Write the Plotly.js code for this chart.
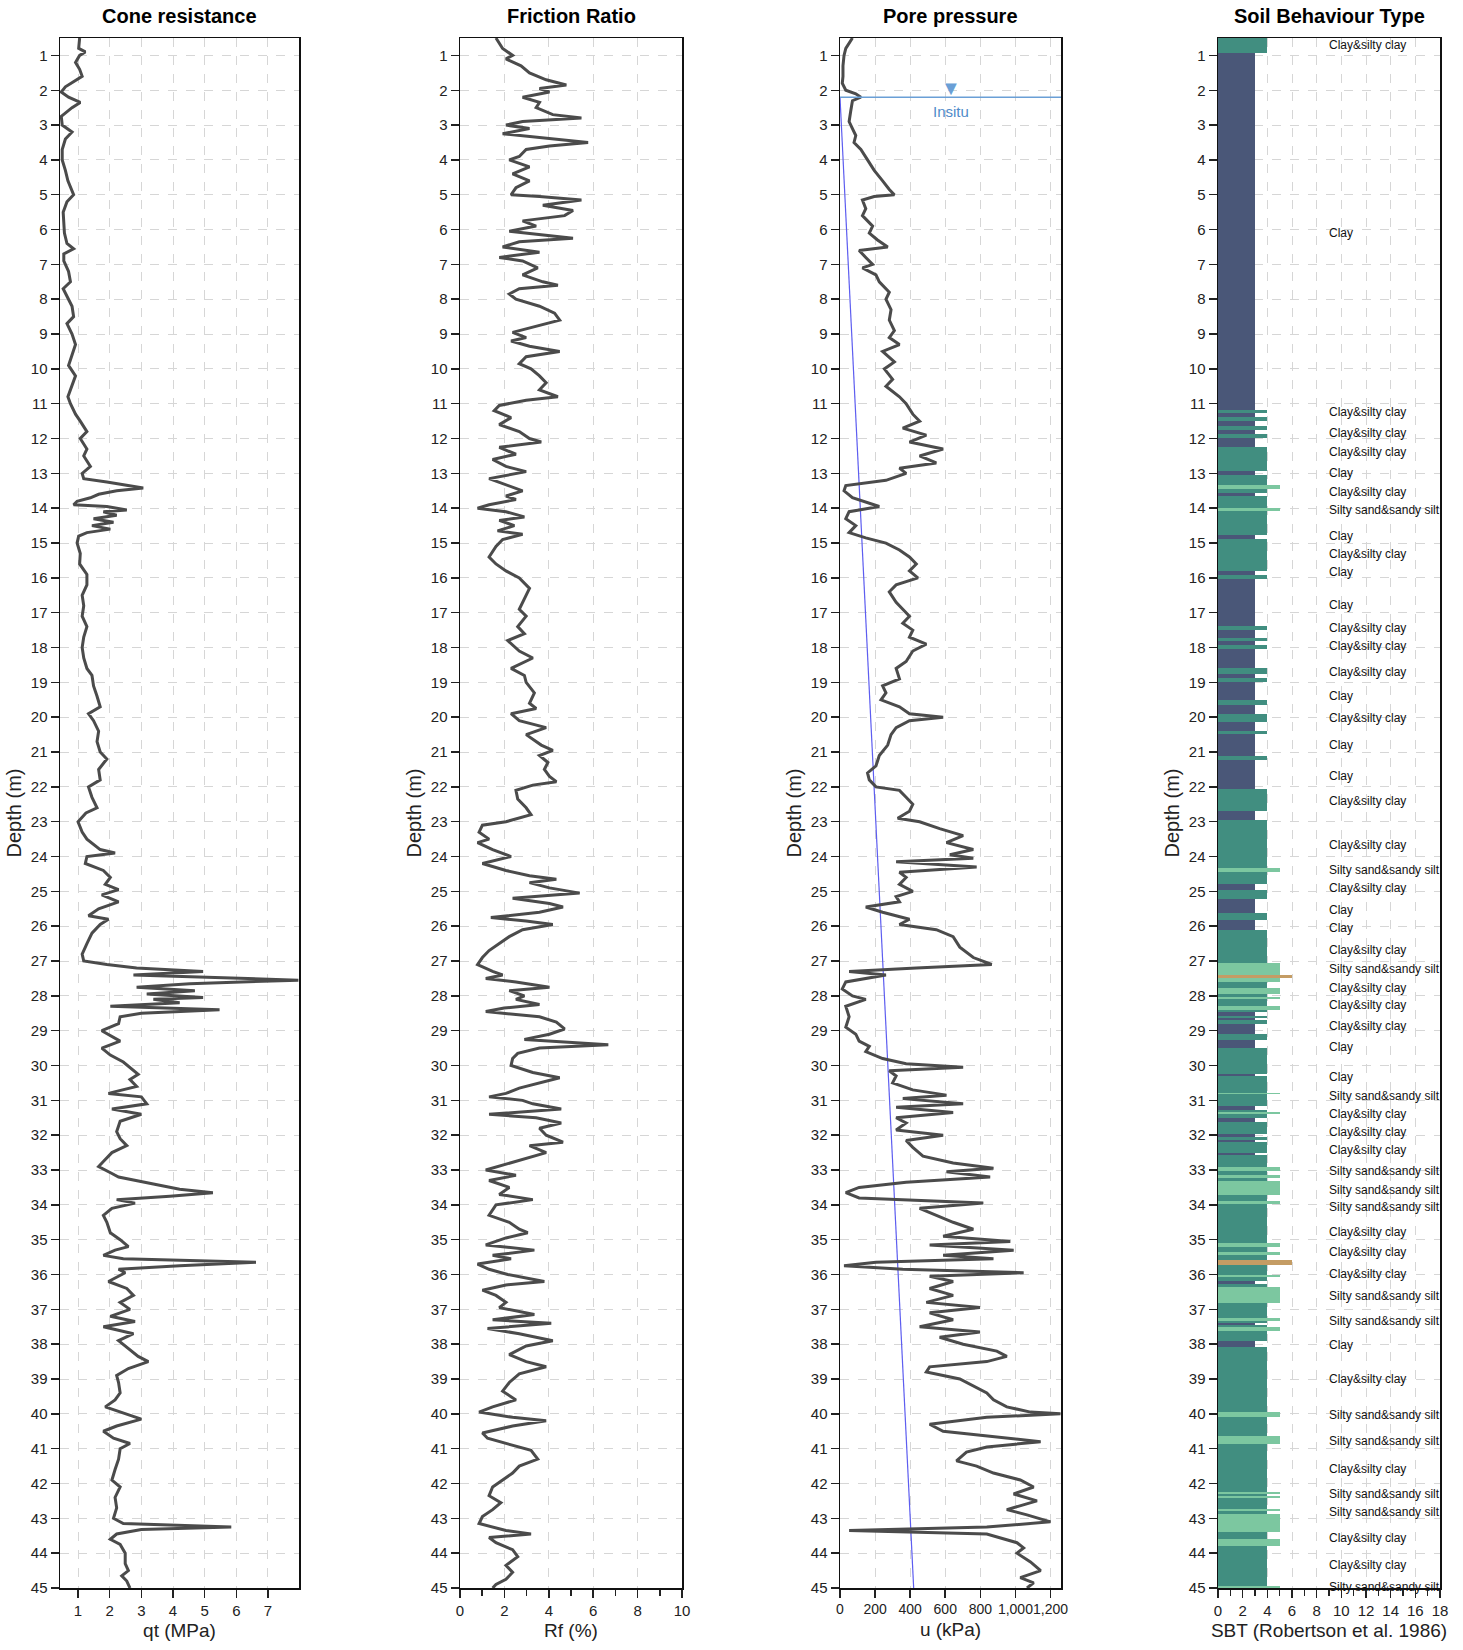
<!DOCTYPE html>
<html><head><meta charset="utf-8">
<script src="https://cdn.plot.ly/plotly-3.0.1.min.js"></script>
<style>html,body{margin:0;padding:0;background:#fff}#chart{width:1463px;height:1650px}</style>
</head><body><div id="chart"></div>
<script>
// ---------- Cone resistance ----------
const qtDepth = [0.5,0.8,0.9,1.0,1.2,1.4,1.6,1.75,1.9,2.05,2.2,2.35,2.5,2.75,3.0,3.2,3.4,3.7,4.0,4.3,4.6,5.0,5.2,5.5,5.8,6.1,6.4,6.55,6.7,6.9,7.2,7.5,7.7,8.0,8.2,8.5,8.7,9.0,9.3,9.6,9.9,10.2,10.5,10.8,11.0,11.3,11.5,11.8,12.0,12.3,12.5,12.8,13.0,13.15,13.25,13.35,13.42,13.5,13.6,13.7,13.8,13.9,13.95,14.05,14.1,14.2,14.3,14.4,14.5,14.6,14.7,14.8,15.0,15.3,15.6,15.9,16.2,16.5,16.8,17.1,17.4,17.7,18.0,18.3,18.6,18.8,19.1,19.4,19.7,19.9,20.1,20.4,20.7,21.0,21.2,21.5,21.8,22.0,22.3,22.6,22.75,23.0,23.3,23.5,23.8,23.9,24.0,24.2,24.4,24.6,24.8,24.95,25.1,25.3,25.5,25.7,25.8,25.95,26.2,26.5,26.8,27.0,27.1,27.2,27.3,27.4,27.5,27.55,27.65,27.75,27.85,27.95,28.05,28.1,28.2,28.3,28.4,28.5,28.6,28.8,29.0,29.2,29.3,29.5,29.7,29.9,30.1,30.25,30.4,30.6,30.8,30.9,31.1,31.25,31.4,31.6,31.9,32.1,32.3,32.5,32.7,32.9,33.1,33.2,33.4,33.55,33.65,33.75,33.85,33.95,34.1,34.3,34.5,34.8,35.0,35.2,35.3,35.45,35.55,35.65,35.75,35.85,35.95,36.2,36.4,36.6,36.8,37.0,37.2,37.35,37.5,37.7,37.9,38.1,38.35,38.5,38.7,38.9,39.1,39.4,39.6,39.8,40.0,40.15,40.35,40.5,40.7,40.85,41.0,41.3,41.6,41.9,42.1,42.4,42.7,43.0,43.15,43.25,43.32,43.45,43.6,43.75,44.0,44.3,44.5,44.65,44.8,45.0];
const qtValues = [1.05,1.02,1.23,1.05,0.92,1.05,1.13,0.86,0.6,0.47,0.7,1.07,0.81,0.47,0.5,0.81,0.6,0.5,0.5,0.6,0.68,0.86,0.65,0.53,0.55,0.57,0.65,0.86,0.55,0.55,0.7,0.76,0.53,0.7,0.81,0.86,0.65,0.81,0.92,0.81,0.7,0.92,0.81,0.68,0.76,0.92,1.07,1.28,1.07,1.28,1.18,1.39,1.13,1.18,1.91,2.54,3.06,2.22,1.65,1.39,0.97,0.86,1.91,2.54,1.8,2.22,1.49,2.12,1.44,2.02,1.28,1.02,0.97,1.07,1.05,1.28,1.28,1.13,1.18,1.13,1.28,1.18,1.13,1.18,1.28,1.44,1.49,1.6,1.7,1.33,1.49,1.65,1.6,1.7,1.91,1.65,1.7,1.33,1.44,1.6,1.25,1.0,1.13,1.28,1.7,2.17,1.28,1.23,1.8,2.02,1.86,2.28,1.75,2.28,1.65,1.33,1.96,1.7,1.44,1.28,1.13,1.18,1.91,2.85,4.95,2.75,6.1,7.96,4.53,2.85,4.69,3.17,4.95,3.38,4.21,2.02,5.47,3.0,2.33,2.28,1.75,2.12,2.33,1.75,2.02,2.43,2.7,2.9,2.64,2.85,1.96,3.0,3.17,2.07,3.0,2.33,2.22,2.33,2.54,2.07,1.86,1.65,2.07,2.28,3.38,4.21,5.26,3.9,2.22,2.8,2.07,1.8,1.91,2.02,2.33,2.59,2.17,1.8,2.43,6.62,4.21,2.28,2.49,1.96,2.54,2.75,2.33,2.64,2.02,2.8,1.8,2.75,2.28,2.54,2.9,3.22,2.59,2.22,2.28,2.33,2.17,1.86,2.54,3.0,2.22,1.8,2.12,2.64,2.33,2.28,2.17,2.07,2.33,2.17,2.22,2.12,2.43,5.84,3.0,2.22,2.02,2.33,2.49,2.49,2.59,2.38,2.54,2.64];

// ---------- Friction ratio ----------
const rfDepth = [0.5,0.8,1.0,1.1,1.3,1.5,1.7,1.85,1.95,2.05,2.2,2.35,2.5,2.7,2.8,2.9,3.0,3.1,3.25,3.35,3.5,3.6,3.7,3.9,4.0,4.2,4.4,4.6,4.8,5.0,5.05,5.15,5.3,5.45,5.6,5.75,5.9,6.05,6.2,6.25,6.35,6.5,6.65,6.8,6.9,7.1,7.3,7.5,7.6,7.7,7.85,8.0,8.2,8.4,8.6,8.8,8.95,9.1,9.2,9.35,9.5,9.65,9.85,10.0,10.2,10.4,10.6,10.8,10.9,11.05,11.2,11.4,11.6,11.8,12.0,12.1,12.25,12.45,12.6,12.8,12.95,13.15,13.35,13.5,13.65,13.75,13.9,14.0,14.1,14.25,14.35,14.5,14.65,14.75,14.9,15.1,15.4,15.6,15.8,16.0,16.3,16.6,16.9,17.1,17.4,17.6,17.8,18.1,18.3,18.6,18.8,19.0,19.3,19.6,19.75,19.9,20.1,20.3,20.5,20.8,20.95,21.1,21.3,21.5,21.7,21.85,21.95,22.1,22.35,22.6,22.8,23.0,23.1,23.3,23.5,23.6,23.8,24.0,24.2,24.4,24.55,24.65,24.75,24.9,25.05,25.2,25.35,25.45,25.6,25.75,25.85,25.95,26.1,26.3,26.5,26.7,26.9,27.1,27.3,27.4,27.5,27.6,27.75,27.85,28.0,28.1,28.25,28.35,28.45,28.6,28.75,28.95,29.1,29.25,29.4,29.5,29.65,29.8,30.0,30.2,30.35,30.5,30.65,30.8,30.9,31.0,31.1,31.25,31.4,31.5,31.65,31.8,32.0,32.2,32.3,32.5,32.7,32.85,33.0,33.15,33.3,33.5,33.7,33.85,34.0,34.3,34.5,34.7,34.8,34.95,35.15,35.3,35.45,35.55,35.7,35.85,36.0,36.2,36.3,36.45,36.6,36.8,36.95,37.15,37.3,37.4,37.55,37.7,37.9,38.05,38.3,38.5,38.65,38.85,39.1,39.35,39.6,39.8,39.95,40.1,40.2,40.35,40.55,40.7,40.9,41.05,41.3,41.5,41.7,41.9,42.1,42.35,42.55,42.75,42.95,43.15,43.35,43.45,43.55,43.7,43.9,44.1,44.35,44.55,44.75,44.9,45.0];
const rfValues = [1.62,1.92,2.37,2.07,2.75,3.13,3.88,4.79,3.58,4.03,2.82,3.58,3.43,4.18,5.47,2.82,2.07,3.13,1.92,3.58,5.77,4.03,2.98,2.67,2.22,3.13,2.37,3.13,2.52,2.3,3.58,5.47,3.73,5.09,4.71,2.82,3.43,2.22,4.34,5.09,2.67,1.92,3.58,1.77,2.82,3.5,2.82,3.73,4.41,2.67,2.22,2.52,3.58,4.26,4.49,3.28,2.37,2.98,2.3,3.13,4.49,2.98,2.67,3.2,3.58,3.88,3.58,4.41,2.98,1.77,1.54,2.3,1.77,2.67,3.13,3.66,1.77,2.52,1.47,2.07,2.98,1.31,2.22,2.82,2.07,2.52,1.31,0.79,2.07,2.9,1.77,2.45,1.69,2.82,1.92,1.62,1.31,1.62,2.07,2.67,3.13,2.9,2.67,2.98,2.6,2.9,2.15,2.67,3.28,2.3,2.9,2.98,3.35,3.13,3.43,2.3,2.67,3.88,2.98,3.66,4.18,3.58,3.96,3.8,4.03,4.34,3.28,2.52,2.6,2.98,3.2,2.07,1.01,0.86,1.31,0.79,1.47,2.3,1.01,2.07,3.13,4.34,3.13,4.03,5.39,2.37,4.03,4.64,3.58,1.39,2.98,4.18,2.82,2.22,1.77,1.31,1.01,0.79,1.47,1.92,1.16,2.52,4.03,2.22,2.9,2.52,3.58,1.99,1.16,3.58,4.34,4.71,4.03,2.9,6.68,3.58,2.6,2.37,2.3,3.28,4.49,3.58,2.67,2.07,1.31,2.82,3.28,4.56,1.31,3.43,4.56,3.58,3.88,4.64,3.13,3.88,2.82,2.07,1.16,2.52,1.31,2.22,1.77,3.28,1.62,1.31,2.22,2.67,3.05,2.07,1.16,3.35,1.47,2.3,0.79,1.31,2.15,3.8,2.07,1.01,1.62,2.07,1.77,3.35,1.47,4.11,1.24,2.67,4.18,2.98,2.22,2.98,3.88,2.67,2.22,1.92,2.52,1.47,0.86,2.37,3.88,2.37,1.01,1.24,2.37,3.2,3.5,2.67,2.37,1.92,1.47,1.31,1.84,1.47,1.01,0.86,2.07,3.2,1.31,1.62,2.37,2.6,2.07,2.37,2.07,1.62,1.47];

// ---------- Pore pressure ----------
const uDepth = [0.5,0.8,1.0,1.3,1.6,1.8,2.0,2.1,2.2,2.3,2.6,2.9,3.1,3.3,3.5,3.7,4.0,4.3,4.6,4.85,5.0,5.05,5.15,5.4,5.6,5.9,6.1,6.3,6.5,6.6,6.8,7.0,7.1,7.3,7.5,7.8,8.0,8.3,8.6,8.9,9.1,9.3,9.5,9.8,10.0,10.3,10.5,10.8,11.0,11.3,11.5,11.7,11.9,12.1,12.3,12.5,12.7,12.85,13.0,13.2,13.35,13.5,13.7,13.95,14.1,14.3,14.5,14.7,14.85,15.0,15.2,15.4,15.6,15.8,16.0,16.2,16.4,16.7,16.9,17.1,17.3,17.5,17.7,17.9,18.1,18.4,18.6,18.9,19.1,19.3,19.5,19.7,19.9,20.0,20.1,20.3,20.5,20.8,21.1,21.4,21.6,21.8,22.0,22.1,22.3,22.5,22.7,22.9,23.0,23.2,23.4,23.6,23.8,23.95,24.05,24.15,24.3,24.45,24.6,24.8,25.0,25.15,25.3,25.45,25.6,25.8,25.95,26.1,26.3,26.6,26.9,27.1,27.2,27.3,27.4,27.6,27.8,28.0,28.1,28.3,28.6,28.9,29.1,29.3,29.45,29.6,29.8,29.95,30.05,30.15,30.3,30.5,30.7,30.85,30.95,31.1,31.2,31.35,31.5,31.65,31.85,32.0,32.15,32.35,32.6,32.8,32.95,33.05,33.2,33.35,33.5,33.65,33.8,33.95,34.1,34.3,34.5,34.7,34.9,35.05,35.15,35.3,35.45,35.55,35.65,35.75,35.85,35.95,36.05,36.2,36.4,36.6,36.8,36.95,37.1,37.3,37.5,37.65,37.8,38.0,38.2,38.35,38.5,38.65,38.8,39.0,39.2,39.4,39.6,39.8,39.95,40.0,40.1,40.3,40.5,40.7,40.8,40.95,41.1,41.35,41.5,41.7,41.9,42.1,42.3,42.5,42.75,42.9,43.1,43.25,43.35,43.45,43.7,43.85,44.0,44.25,44.5,44.7,44.85,45.0];
const uValues = [71,33,23,17,17,13,33,90,119,71,61,52,71,90,80,119,157,195,243,281,310,195,128,147,128,186,167,214,272,109,147,186,128,205,224,281,262,291,281,310,281,339,243,310,253,300,262,339,377,415,454,358,492,396,588,454,549,339,377,262,33,23,71,224,52,33,90,52,147,262,339,396,435,396,444,320,281,320,358,396,358,415,396,492,415,377,320,339,243,262,234,339,396,588,396,320,291,272,224,205,157,167,205,339,377,415,396,329,454,568,702,607,760,626,760,320,779,339,377,339,415,320,339,147,243,396,339,549,645,683,760,865,435,52,262,33,13,71,147,33,52,33,90,109,167,147,243,377,702,281,320,300,415,607,358,702,320,645,320,377,320,588,377,415,473,645,875,607,856,377,109,33,109,817,454,549,645,760,588,971,511,990,588,875,205,23,358,1047,511,645,511,645,492,798,511,645,454,798,568,702,894,951,837,511,492,683,760,837,875,951,1086,1257,837,511,588,951,1144,837,721,664,779,875,1028,1104,990,1123,951,1066,1200,837,52,837,1009,1047,1009,1086,1144,1028,1104,1066];
// in-situ (hydrostatic) pore pressure line and water table
const u0Depth = [2.2, 45];
const u0Values = [0, 420];
const waterTableDepth = 2.2;

// ---------- Soil behaviour type ----------
const sbtTop = [0.5,0.92,11.18,11.27,11.39,11.51,11.63,11.75,11.87,11.99,12.24,12.93,13.05,13.32,13.44,13.56,13.65,13.99,14.08,14.77,14.89,15.8,15.92,16.04,17.37,17.49,17.73,17.82,17.94,18.03,18.58,18.76,18.88,19.0,19.51,19.66,19.9,20.15,20.39,20.48,21.11,21.24,22.05,22.69,22.96,24.32,24.44,24.8,24.95,25.23,25.63,25.81,26.12,27.05,27.41,27.48,27.6,27.77,27.94,28.04,28.1,28.29,28.4,28.47,28.58,28.64,28.7,28.81,29.1,29.27,29.5,30.25,30.31,30.78,30.83,31.16,31.29,31.34,31.4,31.5,31.62,31.98,32.05,32.15,32.2,32.5,32.58,32.9,33.02,33.13,33.23,33.31,33.71,33.9,33.98,35.1,35.2,35.35,35.44,35.59,35.73,36.0,36.07,36.19,36.26,36.36,36.81,37.26,37.33,37.38,37.46,37.5,37.61,37.9,38.07,39.96,40.08,40.63,40.86,42.23,42.3,42.35,42.42,42.74,42.8,42.88,43.38,43.6,43.79,44.94];
const sbtZone = [4,3,4,3,4,3,4,3,4,3,4,3,4,5,4,3,4,5,4,3,4,3,4,3,4,3,4,3,4,3,4,3,4,3,4,3,4,3,4,3,4,3,4,3,4,5,4,3,4,3,4,3,4,5,6,5,4,5,4,5,4,5,4,3,4,3,4,3,4,3,4,3,4,5,4,3,4,5,4,3,4,3,4,3,4,3,4,5,4,5,4,5,4,5,4,5,4,5,4,6,4,5,4,3,4,5,4,5,4,3,4,5,4,3,4,5,4,5,4,5,4,5,4,5,4,5,4,5,4,5];
const sbtColors = {3: "#4a5778", 4: "#418e80", 5: "#7cc7a0", 6: "#c49c64"};
const sbtLabelDepth = [0.73,6.13,11.27,11.87,12.42,13.02,13.56,14.08,14.83,15.35,15.86,16.8,17.46,17.97,18.73,19.42,20.06,20.84,21.72,22.44,23.71,24.41,24.92,25.55,26.07,26.7,27.25,27.79,28.3,28.88,29.51,30.36,30.9,31.41,31.93,32.44,33.07,33.59,34.1,34.8,35.37,36.0,36.64,37.36,38.06,39.02,40.05,40.81,41.62,42.32,42.86,43.59,44.37,45.0];
const sbtLabelText = ["Clay&silty clay","Clay","Clay&silty clay","Clay&silty clay","Clay&silty clay","Clay","Clay&silty clay","Silty sand&sandy silt","Clay","Clay&silty clay","Clay","Clay","Clay&silty clay","Clay&silty clay","Clay&silty clay","Clay","Clay&silty clay","Clay","Clay","Clay&silty clay","Clay&silty clay","Silty sand&sandy silt","Clay&silty clay","Clay","Clay","Clay&silty clay","Silty sand&sandy silt","Clay&silty clay","Clay&silty clay","Clay&silty clay","Clay","Clay","Silty sand&sandy silt","Clay&silty clay","Clay&silty clay","Clay&silty clay","Silty sand&sandy silt","Silty sand&sandy silt","Silty sand&sandy silt","Clay&silty clay","Clay&silty clay","Clay&silty clay","Silty sand&sandy silt","Silty sand&sandy silt","Clay","Clay&silty clay","Silty sand&sandy silt","Silty sand&sandy silt","Clay&silty clay","Silty sand&sandy silt","Silty sand&sandy silt","Clay&silty clay","Clay&silty clay","Silty sand&sandy silt"];

const panelTitles = ["Cone resistance", "Friction Ratio", "Pore pressure", "Soil Behaviour Type"];
const xTitles = ["qt (MPa)", "Rf (%)", "u (kPa)", "SBT (Robertson et al. 1986)"];

// ---------- build ----------
const FONT = "'Liberation Sans', Arial, sans-serif";
const W = 1463, H = 1650;
const px = [[60,299],[460,682],[840,1061],[1218,1440]];
const yDom = [1 - 1588/H, 1 - 38/H];
const curveColor = "#4b4b4b";

const sbtBottom = sbtTop.map((t, i) => i + 1 < sbtTop.length ? sbtTop[i + 1] : 45);

const traces = [
  {type: "scatter", mode: "lines", x: qtValues, y: qtDepth, xaxis: "x", yaxis: "y",
   line: {color: curveColor, width: 3}, hoverinfo: "skip"},
  {type: "scatter", mode: "lines", x: rfValues, y: rfDepth, xaxis: "x2", yaxis: "y2",
   line: {color: curveColor, width: 3}, hoverinfo: "skip"},
  {type: "scatter", mode: "lines", x: u0Values, y: u0Depth, xaxis: "x3", yaxis: "y3",
   line: {color: "#5d5df0", width: 1.2}, hoverinfo: "skip"},
  {type: "scatter", mode: "lines", x: uValues, y: uDepth, xaxis: "x3", yaxis: "y3",
   line: {color: curveColor, width: 3}, hoverinfo: "skip"},
  {type: "bar", orientation: "h", x: sbtZone, y: sbtTop.map((t, i) => (t + sbtBottom[i]) / 2),
   width: sbtTop.map((t, i) => sbtBottom[i] - t), base: 0,
   marker: {color: sbtZone.map(z => sbtColors[z]), line: {width: 0}},
   xaxis: "x4", yaxis: "y4", hoverinfo: "skip"},
  {type: "scatter", mode: "text", x: sbtLabelDepth.map(() => 9.0), y: sbtLabelDepth,
   text: sbtLabelText, textposition: "middle right",
   textfont: {family: FONT, size: 12, color: "#111"},
   xaxis: "x4", yaxis: "y4", hoverinfo: "skip", cliponaxis: false}
];

const depthTicks = [];
for (let d = 1; d <= 45; d++) depthTicks.push(d);

function yAxis(i) {
  return {
    domain: yDom, range: [45, 0.5], anchor: i === 0 ? "x" : "x" + (i + 1),
    tickvals: depthTicks, ticks: "outside", ticklen: 8, tickwidth: 1.5, tickcolor: "#222",
    tickfont: {family: FONT, size: 15, color: "#222"},
    showline: true, linecolor: "#111", linewidth: 1.5, mirror: true,
    showgrid: true, gridcolor: "#d6d6d6", griddash: "dash", gridwidth: 1,
    zeroline: false, fixedrange: true,
    title: {text: "Depth (m)", font: {family: FONT, size: 20, color: "#222"}, standoff: 4}
  };
}
function xAxis(i, extra) {
  return Object.assign({
    domain: [px[i][0] / W, px[i][1] / W], anchor: i === 0 ? "y" : "y" + (i + 1),
    ticks: "outside", ticklen: 8, tickwidth: 1.5, tickcolor: "#222", tickangle: 0,
    tickfont: {family: FONT, size: 15, color: "#222"},
    showline: true, linecolor: "#111", linewidth: 1.5, mirror: true,
    showgrid: true, gridcolor: "#d6d6d6", griddash: "dash", gridwidth: 1,
    zeroline: false, fixedrange: true,
    title: {text: xTitles[i], font: {family: FONT, size: 19, color: "#222"}, standoff: 6}
  }, extra);
}

const layout = {
  width: W, height: H, margin: {l: 0, r: 0, t: 0, b: 0},
  paper_bgcolor: "#fff", plot_bgcolor: "#fff", showlegend: false,
  font: {family: FONT, color: "#222"},
  bargap: 0,
  xaxis: xAxis(0, {range: [0.43, 7.98], tickvals: [1,2,3,4,5,6,7]}),
  xaxis2: xAxis(1, {range: [0, 10], dtick: 2, tick0: 0,
                    minor: {dtick: 1, ticks: "outside", ticklen: 6, tickcolor: "#222", showgrid: false}}),
  xaxis3: xAxis(2, {range: [0, 1260], dtick: 200, tick0: 0, tickformat: ",",
                    tickfont: {family: FONT, size: 14, color: "#222"}}),
  xaxis4: xAxis(3, {range: [0, 18], dtick: 2, tick0: 0,
                    minor: {dtick: 1, ticks: "outside", ticklen: 6, tickcolor: "#222", showgrid: false}}),
  yaxis: yAxis(0), yaxis2: yAxis(1), yaxis3: yAxis(2), yaxis4: yAxis(3),
  shapes: [
    {type: "line", xref: "x3 domain", yref: "y3", x0: 0, x1: 1, y0: waterTableDepth, y1: waterTableDepth,
     line: {color: "#6a9fd6", width: 1.5}}
  ],
  annotations: panelTitles.map((t, i) => ({
    text: "<b>" + t + "</b>", xref: "paper", yref: "paper",
    x: (px[i][0] + px[i][1]) / 2 / W, y: 1 - 16 / H, xanchor: "center", yanchor: "middle",
    showarrow: false, font: {family: FONT, size: 20, color: "#000"}
  })).concat([
    {text: "▼", xref: "x3 domain", yref: "y3", x: 0.5, y: 1.93, showarrow: false,
     font: {size: 20, color: "#6a9fd6"}, xanchor: "center", yanchor: "middle"},
    {text: "Insitu", xref: "x3 domain", yref: "y3", x: 0.5, y: 2.62, showarrow: false,
     font: {family: FONT, size: 15, color: "#4f8bc9"}, xanchor: "center", yanchor: "middle"}
  ])
};

Plotly.newPlot("chart", traces, layout, {staticPlot: true, displayModeBar: false});
</script>
</body></html>
